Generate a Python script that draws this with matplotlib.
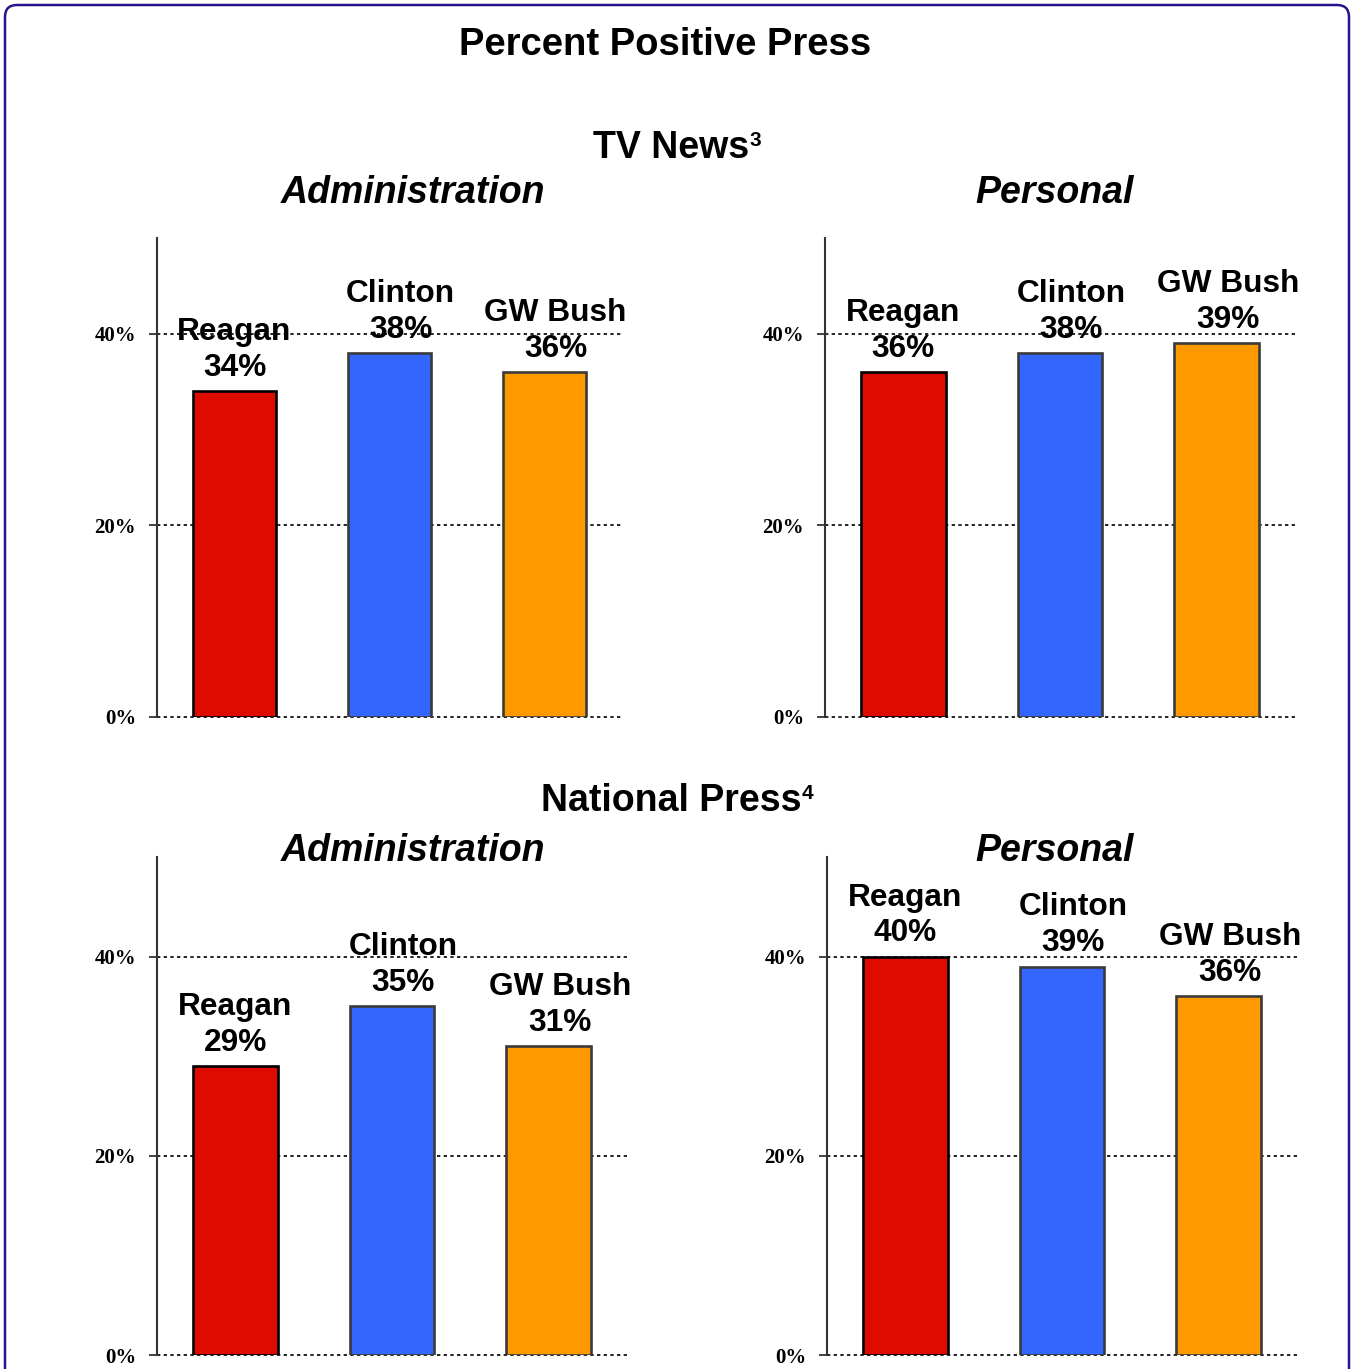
#!/usr/bin/env python3

import matplotlib
matplotlib.use('Agg')

import matplotlib.pyplot as plt
from matplotlib.patches import FancyBboxPatch


presidents = ['Reagan', 'Clinton', 'GW Bush']
tv_admin = [34, 38, 36]
tv_personal = [36, 38, 39]
press_admin = [29, 35, 31]
press_personal = [40, 39, 36]
y_ticks = [0, 20, 40]

BAR_COLORS = ['#DE0C00', '#3366FF', '#FF9900']
EDGE_COLORS = ['#000000', '#3a3a3a', '#3a3a3a']
LABEL_DX = [0, 8, 8]   # labels sit a little right of the later bars
SANS = ['Liberation Sans', 'DejaVu Sans']
SERIF = ['Liberation Serif', 'DejaVu Serif']


def draw_panel(ax, values):
    xs = list(range(len(values)))
    for y in y_ticks:
        ax.axhline(y, color='black', linewidth=1.2, linestyle=(0, (2, 2)),
                   zorder=1, clip_on=False)
    ax.bar(xs, values, 0.54, color=BAR_COLORS, edgecolor=EDGE_COLORS,
           linewidth=1.9, zorder=3)

    for x, name, v, dx in zip(xs, presidents, values, LABEL_DX):
        ax.annotate("%s\n%d%%" % (name, v), (x, v), xytext=(dx, 6),
                    textcoords='offset points', ha='center', va='bottom',
                    fontsize=22.8, fontweight='bold', family=SANS,
                    linespacing=1.25, zorder=4)

    ax.set_xlim(-0.5, 2.5)
    ax.set_ylim(0, 50)
    ax.set_xticks([])
    ax.set_yticks(y_ticks)
    ax.set_yticklabels(["%d%%" % t for t in y_ticks], family=SERIF,
                       fontweight='bold', fontsize=15)
    ax.tick_params(axis='y', length=6, width=1.3, color='#333333', pad=9)
    for side in ['top', 'right', 'bottom']:
        ax.spines[side].set_visible(False)
    ax.spines['left'].set_color('#333333')
    ax.spines['left'].set_linewidth(1.5)


def main():
    fig = plt.figure(figsize=(13.51, 13.69), dpi=100)

    # rounded frame round the whole slide, cut off at the bottom
    frame = FancyBboxPatch((5, -30), 1344, 1394,
                           boxstyle='round,pad=0,rounding_size=12',
                           transform=None, facecolor='none',
                           edgecolor='#24168C', linewidth=1.8)
    fig.patches.append(frame)

    panels = [
        ([0.1162, 0.4763, 0.3442, 0.3499], tv_admin),
        ([0.6107, 0.4763, 0.3478, 0.3499], tv_personal),
        ([0.1162, 0.0102, 0.3479, 0.3638], press_admin),
        ([0.6121, 0.0102, 0.3479, 0.3638], press_personal),
    ]
    axes = []
    for rect, values in panels:
        ax = fig.add_axes(rect)
        draw_panel(ax, values)
        axes.append(ax)

    def ftext(x, y, s, **kw):
        return fig.text(x / 1351, 1 - y / 1369, s, ha='center', va='center',
                        fontweight='bold', family=SANS, **kw)

    def superscript(t, s):
        axes[0].annotate(s, xy=(1, 1.0), xycoords=t, xytext=(0.5, -1),
                         textcoords='offset points', ha='left', va='top',
                         fontsize=15, fontweight='bold', family=SANS,
                         annotation_clip=False)

    ftext(665, 45, "Percent Positive Press", fontsize=27.5)
    superscript(ftext(671, 148, "TV News", fontsize=27), "3")
    ftext(413, 193, "Administration", fontsize=27, style='italic')
    ftext(1055, 193, "Personal", fontsize=27, style='italic')
    superscript(ftext(671, 801, "National Press", fontsize=27), "4")
    ftext(413, 851, "Administration", fontsize=27, style='italic')
    ftext(1055, 851, "Personal", fontsize=27, style='italic')

    plt.savefig('out.png', dpi=100)
    plt.close()


if __name__ == "__main__":
    main()
